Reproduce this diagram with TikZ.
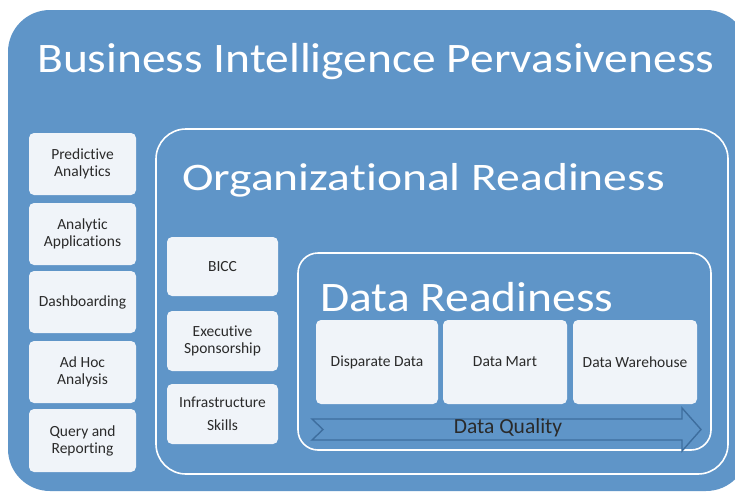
\documentclass[tikz,border=0pt]{standalone}
\usepackage{fontspec}
\setmainfont{Carlito}[Ligatures=NoCommon]
\newfontfamily\headfont[FakeStretch=1.13,Ligatures=NoCommon]{Carlito}
\newfontfamily\orgfont[FakeStretch=1.22,Ligatures=NoCommon]{Carlito}
\begin{document}
\begin{tikzpicture}[x=1pt,y=-1pt,
  panel/.style={fill=bgblue,draw=none},
  frame/.style={draw=white,line width=1.6pt},
  card/.style={fill=cardfill,draw=none,rounded corners=5pt},
  cardtext/.style={text=cardtext,font=\fontsize{15.5}{17}\selectfont,align=center},
  title/.style={text=white,anchor=base west,inner sep=0pt}]
\definecolor{bgblue}{HTML}{5F95C8}
\definecolor{cardfill}{HTML}{F0F4F9}
\definecolor{cardtext}{HTML}{2A2A2A}
\definecolor{arrowline}{HTML}{3E6E9E}
\useasboundingbox (0,0) rectangle (735,493);
\fill[white] (0,0) rectangle (735,493);
% outer panel
\fill[panel,rounded corners=42pt] (8,10) rectangle (748,491);
\node[title,font=\headfont\fontsize{42}{48}\selectfont] (t1) at (37,72) {Business Intelligence Pervasiveness};
% left column
\foreach \n/\ya/\yb/\txt in {pa/133/195/{Predictive\\Analytics},aa/203/265/{Analytic\\Applications},db/271/333/{Dashboarding},ah/341/403/{Ad Hoc\\Analysis},qr/409/472/{Query and\\Reporting}}{
  \fill[card] (29,\ya) rectangle (136,\yb);
  \node[cardtext] (\n) at (82.5,{(\ya+\yb)/2}) {\txt};
}
% organizational readiness
\draw[frame,rounded corners=30pt] (156,129) rectangle (728,474);
\node[title,font=\orgfont\fontsize{39}{45}\selectfont] (t2) at (182,190) {Organizational Readiness};
\foreach \n/\ya/\yb/\txt in {bi/237/296/{BICC},es/311/371/{Executive\\Sponsorship},is/384/444/{Infrastructure\\[6pt]Skills}}{
  \fill[card] (167,\ya) rectangle (278,\yb);
  \node[cardtext] (\n) at (222.5,{(\ya+\yb)/2}) {\txt};
}
% data readiness
\draw[frame,rounded corners=20pt] (298,253) rectangle (711,450);
\node[title,font=\headfont\fontsize{42}{48}\selectfont] (t3) at (320,311) {Data Readiness};
\foreach \n/\xa/\xb/\txt in {dd/316/438/{Disparate Data},dm/443/567/{Data Mart},dw/573/697/{Data Warehouse}}{
  \fill[card] (\xa,320) rectangle (\xb,404);
  \node[cardtext] (\n) at ({(\xa+\xb)/2},362) {\txt};
}
% data quality arrow
\draw[arrowline,line width=1.4pt,line join=miter,fill=bgblue,fill opacity=0.6]
  (312,419) -- (682,419) -- (682,408) -- (701,429.5) -- (682,451) -- (682,440) -- (312,440) -- (323,429.5) -- cycle;
\node[text=cardtext,font=\fontsize{21.5}{24}\selectfont] (dq) at (508,428) {Data Quality};
\end{tikzpicture}
\end{document}
